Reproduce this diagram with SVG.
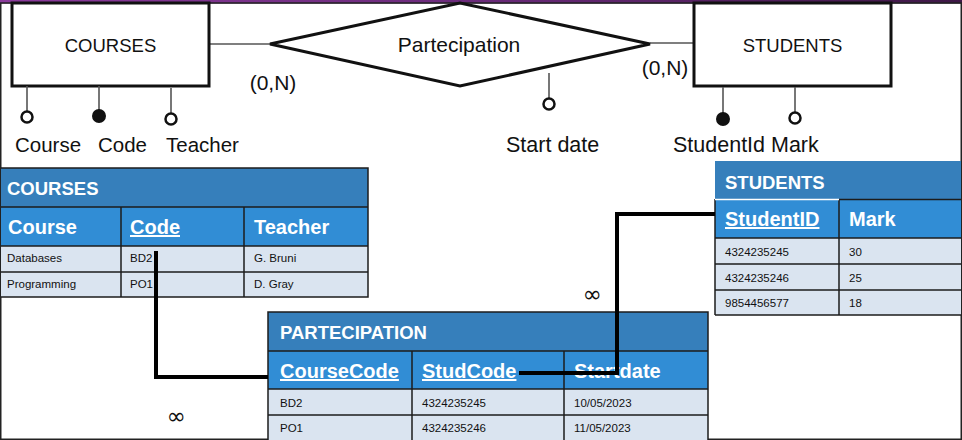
<svg xmlns="http://www.w3.org/2000/svg" width="962" height="440" viewBox="0 0 962 440">
<defs>
<linearGradient id="band" x1="0" y1="0" x2="1" y2="0">
<stop offset="0" stop-color="#8b3b9c"/>
<stop offset="0.5" stop-color="#6a2a7a"/>
<stop offset="1" stop-color="#3e1846"/>
</linearGradient>
</defs>
<style>
.er{fill:#fff;stroke:#111;stroke-width:3}
.lbl{font-family:"Liberation Sans",Arial,sans-serif;fill:#111}
.link{stroke:#555;stroke-width:1.6;fill:none}
.open{fill:#fff;stroke:#111;stroke-width:2.5}
.full{fill:#111;stroke:#111;stroke-width:2}
.title{fill:#367fbb}
.colh{fill:#318dd5}
.data{fill:#dae4f0}
.grid{fill:none;stroke:#1c1c1c;stroke-width:1.5}
.tt{font-family:"Liberation Sans",Arial,sans-serif;font-weight:bold;fill:#fff;font-size:18.5px}
.th{font-family:"Liberation Sans",Arial,sans-serif;font-weight:bold;fill:#fff;font-size:20px}
.u{text-decoration:underline}
.td{font-family:"Liberation Sans",Arial,sans-serif;fill:#111;font-size:11.5px}
.conn{stroke:#000;stroke-width:4;fill:none;stroke-linejoin:miter}
.inf{font-family:"DejaVu Sans",sans-serif;font-size:23px;fill:#111}
</style>
<rect x="0" y="0" width="962" height="440" fill="#fff"/>
<rect x="0" y="0" width="962" height="3.5" fill="url(#band)"/>
<rect x="0.75" y="3" width="960.5" height="436.25" fill="none" stroke="#222" stroke-width="1.5"/>

<g id="er-links">
<line class="link" x1="209" y1="44" x2="270" y2="44"/>
<line class="link" x1="650" y1="43" x2="694" y2="43"/>
</g>

<g id="entity-courses">
<rect class="er" x="12" y="3" width="197" height="83"/>
<text class="lbl" x="110.5" y="52" font-size="18.5" text-anchor="middle">COURSES</text>
</g>

<g id="relationship-partecipation">
<polygon class="er" points="270,44 460,3 650,44 460,86"/>
<text class="lbl" x="459" y="52" font-size="21" text-anchor="middle">Partecipation</text>
</g>

<g id="entity-students">
<rect class="er" x="694" y="3" width="197" height="83"/>
<text class="lbl" x="792.5" y="52" font-size="18.5" text-anchor="middle">STUDENTS</text>
</g>

<g id="card-left"><text class="lbl" x="273" y="90" font-size="21" text-anchor="middle">(0,N)</text></g>
<g id="card-right"><text class="lbl" x="665" y="75" font-size="21" text-anchor="middle">(0,N)</text></g>

<g id="attr-course">
<line class="link" x1="27" y1="86" x2="27" y2="112"/>
<circle class="open" cx="27" cy="117" r="5.5"/>
<text class="lbl" x="15" y="152" font-size="20.5">Course</text>
</g>
<g id="attr-code">
<line class="link" x1="99" y1="86" x2="99" y2="110"/>
<circle class="full" cx="99" cy="116" r="6"/>
<text class="lbl" x="98" y="152" font-size="20.5">Code</text>
</g>
<g id="attr-teacher">
<line class="link" x1="171" y1="88" x2="171" y2="113"/>
<circle class="open" cx="171" cy="119" r="5.5"/>
<text class="lbl" x="166" y="152" font-size="20.5">Teacher</text>
</g>
<g id="attr-startdate">
<line class="link" x1="549" y1="73" x2="549" y2="98"/>
<circle class="open" cx="549" cy="104" r="5.5"/>
<text class="lbl" x="506" y="152" font-size="21.5">Start date</text>
</g>
<g id="attr-studentid">
<line class="link" x1="723" y1="87" x2="723" y2="113"/>
<circle class="full" cx="723" cy="119" r="6"/>
<text class="lbl" x="673" y="152" font-size="21.5">StudentId</text>
</g>
<g id="attr-mark">
<line class="link" x1="795" y1="87" x2="795" y2="113"/>
<circle class="open" cx="795" cy="118" r="5.5"/>
<text class="lbl" x="771" y="152" font-size="21.5">Mark</text>
</g>

<g id="table-courses">
<rect class="title" x="1" y="168" width="367" height="39"/>
<rect class="colh" x="1" y="207" width="367" height="39"/>
<rect class="data" x="1" y="246" width="367" height="51"/>
<path class="grid" d="M1,168H368V297H1M1,207H368M1,246H368M1,272H368M121,207V297M244,207V297"/>
<text class="tt" x="7" y="195">COURSES</text>
<text class="th" x="8" y="234">Course</text>
<text class="th u" x="130" y="234">Code</text>
<text class="th" x="254" y="234">Teacher</text>
<text class="td" x="7" y="262">Databases</text>
<text class="td" x="130" y="262">BD2</text>
<text class="td" x="254" y="262">G. Bruni</text>
<text class="td" x="7" y="288">Programming</text>
<text class="td" x="130" y="288">PO1</text>
<text class="td" x="254" y="288">D. Gray</text>
</g>

<g id="table-students">
<rect class="title" x="715" y="161" width="246" height="38"/>
<rect class="colh" x="715" y="199" width="246" height="39"/>
<rect class="data" x="715" y="238" width="246" height="77"/>
<path class="grid" d="M715,238H961M715,264H961M715,290H961M715,315H961M715,199V315M839,199V315"/>
<line x1="715" y1="199.5" x2="839" y2="199.5" stroke="#fff" stroke-width="1.5"/>
<line x1="839" y1="199.5" x2="961" y2="199.5" stroke="#1c1c1c" stroke-width="1.5"/>
<text class="tt" x="725" y="189">STUDENTS</text>
<text class="th u" x="725" y="226">StudentID</text>
<text class="th" x="849" y="226">Mark</text>
<text class="td" x="725" y="256">4324235245</text>
<text class="td" x="849" y="256">30</text>
<text class="td" x="725" y="282">4324235246</text>
<text class="td" x="849" y="282">25</text>
<text class="td" x="725" y="307">9854456577</text>
<text class="td" x="849" y="307">18</text>
</g>

<g id="table-partecipation">
<rect class="title" x="268" y="312" width="440" height="39"/>
<rect class="colh" x="268" y="351" width="440" height="38"/>
<rect class="data" x="268" y="389" width="440" height="51"/>
<path class="grid" d="M268,440V312H708V440M268,351H708M268,389H708M268,415H708M412,351V440M564,351V440"/>
<text class="tt" x="280" y="339">PARTECIPATION</text>
<text class="th u" x="280" y="378">CourseCode</text>
<text class="th u" x="422" y="378">StudCode</text>
<text class="th" x="574" y="378">Startdate</text>
<text class="td" x="280" y="407">BD2</text>
<text class="td" x="422" y="407">4324235245</text>
<text class="td" x="574" y="407">10/05/2023</text>
<text class="td" x="280" y="432">PO1</text>
<text class="td" x="422" y="432">4324235246</text>
<text class="td" x="574" y="432">11/05/2023</text>
</g>

<g id="connectors">
<polyline class="conn" points="156,251 156,377 268,377"/>
<polyline class="conn" points="519,373 617,373 617,214 715,214"/>
</g>

<g id="inf-left"><text class="inf" x="176" y="424" text-anchor="middle">∞</text></g>
<g id="inf-right"><text class="inf" x="592" y="302" text-anchor="middle">∞</text></g>
</svg>
